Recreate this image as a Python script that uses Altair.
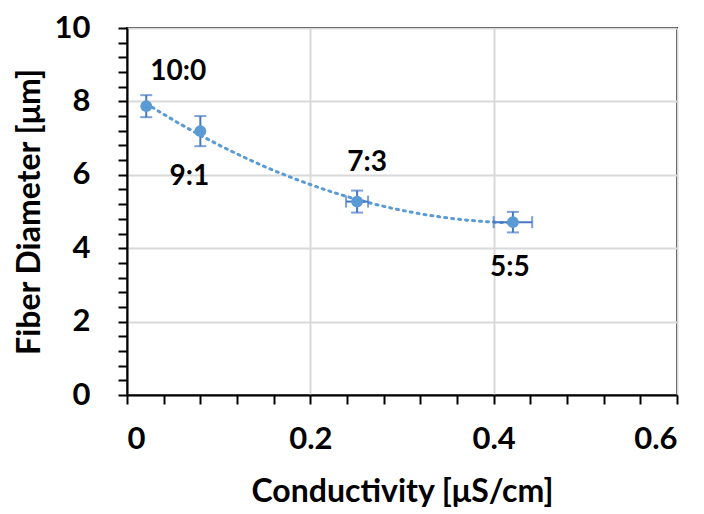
import altair as alt
import pandas as pd

# ---- data ----
ratios = ["10:0", "9:1", "7:3", "5:5"]
conductivity = [0.021, 0.080, 0.251, 0.421]
diameter = [7.87, 7.19, 5.27, 4.71]
diameter_err = [0.30, 0.41, 0.30, 0.28]
conductivity_err = [0.0, 0.0, 0.012, 0.021]

x_ticks = [round(i * 0.04, 2) for i in range(16)]
y_ticks = [round(i * 0.4, 1) for i in range(26)]

df = pd.DataFrame({
    "ratio": ratios,
    "x": conductivity,
    "y": diameter,
    "yerr": diameter_err,
    "xerr": conductivity_err,
})

FONT = "Lato"
BLUE = "#5b9bd5"
ERR = "#4677c4"

xs = alt.Scale(domain=[0, 0.6], nice=False, zero=False)
ys = alt.Scale(domain=[0, 10], nice=False, zero=False)

x_major = "abs(datum.value*5 - round(datum.value*5)) < 0.001"
y_major = "abs(datum.value/2 - round(datum.value/2)) < 0.001"

x_axis = alt.Axis(
    values=x_ticks,
    tickCount=100,
    labelExpr=f"{x_major} ? (datum.value == 0 ? '0' : format(datum.value, '.1f')) : ''",
    gridColor={"condition": {"test": x_major, "value": "#d9d9d9"}, "value": "transparent"},
    title="Conductivity [μS/cm]",
)
y_axis = alt.Axis(
    values=y_ticks,
    tickCount=100,
    labelExpr=f"{y_major} ? format(datum.value, 'd') : ''",
    gridColor={"condition": {"test": y_major, "value": "#d9d9d9"}, "value": "transparent"},
    title="Fiber Diameter [μm]",
)

base = alt.Chart(df)

trend = base.transform_regression("x", "y", method="poly", order=2).mark_line(
    color=BLUE, strokeWidth=3, strokeDash=[2, 5], strokeCap="round"
).encode(
    x=alt.X("x:Q", scale=xs, axis=x_axis),
    y=alt.Y("y:Q", scale=ys, axis=y_axis),
)

with_err = base.transform_calculate(
    ylo="datum.y - datum.yerr",
    yhi="datum.y + datum.yerr",
    xlo="datum.x - datum.xerr",
    xhi="datum.x + datum.xerr",
)

ybar = with_err.mark_rule(color=ERR, strokeWidth=2).encode(
    x=alt.X("x:Q", scale=xs), y=alt.Y("ylo:Q", scale=ys), y2="yhi:Q"
)
ycap_lo = with_err.mark_tick(color=ERR, thickness=2, size=12, orient="horizontal").encode(
    x=alt.X("x:Q", scale=xs), y=alt.Y("ylo:Q", scale=ys)
)
ycap_hi = with_err.mark_tick(color=ERR, thickness=2, size=12, orient="horizontal").encode(
    x=alt.X("x:Q", scale=xs), y=alt.Y("yhi:Q", scale=ys)
)

xerr_data = with_err.transform_filter("datum.xerr > 0")
xbar = xerr_data.mark_rule(color=ERR, strokeWidth=2).encode(
    x=alt.X("xlo:Q", scale=xs), x2="xhi:Q", y=alt.Y("y:Q", scale=ys)
)
xcap_lo = xerr_data.mark_tick(color=ERR, thickness=2, size=12, orient="vertical").encode(
    x=alt.X("xlo:Q", scale=xs), y=alt.Y("y:Q", scale=ys)
)
xcap_hi = xerr_data.mark_tick(color=ERR, thickness=2, size=12, orient="vertical").encode(
    x=alt.X("xhi:Q", scale=xs), y=alt.Y("y:Q", scale=ys)
)

points = base.mark_circle(color=BLUE, opacity=1, size=140).encode(
    x=alt.X("x:Q", scale=xs), y=alt.Y("y:Q", scale=ys)
)

label_offsets = {"10:0": (32, -34), "9:1": (-11, 46), "7:3": (10, -39), "5:5": (-3, 46)}
labels = []
for r in ratios:
    dx, dy = label_offsets[r]
    labels.append(
        base.transform_filter(alt.datum.ratio == r).mark_text(
            font=FONT, fontSize=28, fontWeight="bold", color="black",
            dx=dx, dy=dy, align="center", baseline="middle",
        ).encode(x=alt.X("x:Q", scale=xs), y=alt.Y("y:Q", scale=ys), text="ratio:N")
    )

chart = alt.layer(
    trend, ybar, ycap_lo, ycap_hi, xbar, xcap_lo, xcap_hi, points, *labels
).properties(
    width=550, height=367,
    autosize=alt.AutoSizeParams(type="none"),
    padding={"left": 127, "top": 28, "right": 27, "bottom": 119},
).configure_view(
    stroke="black", strokeWidth=2,
).configure_axis(
    domainColor="black", domainWidth=2,
    tickColor="black", tickWidth=2, tickSize=9,
    gridWidth=2,
    labelFont=FONT, labelFontSize=31, labelFontWeight="bold", labelColor="black",
    titleFont=FONT, titleFontSize=32, titleFontWeight="bold", titleColor="black",
).configure_axisX(
    labelPadding=20, titlePadding=22, labelOverlap=False,
).configure_axisY(
    labelPadding=28, titlePadding=8, labelOverlap=False,
)

chart.save("out.html", embed_options={"renderer": "svg", "actions": False})
